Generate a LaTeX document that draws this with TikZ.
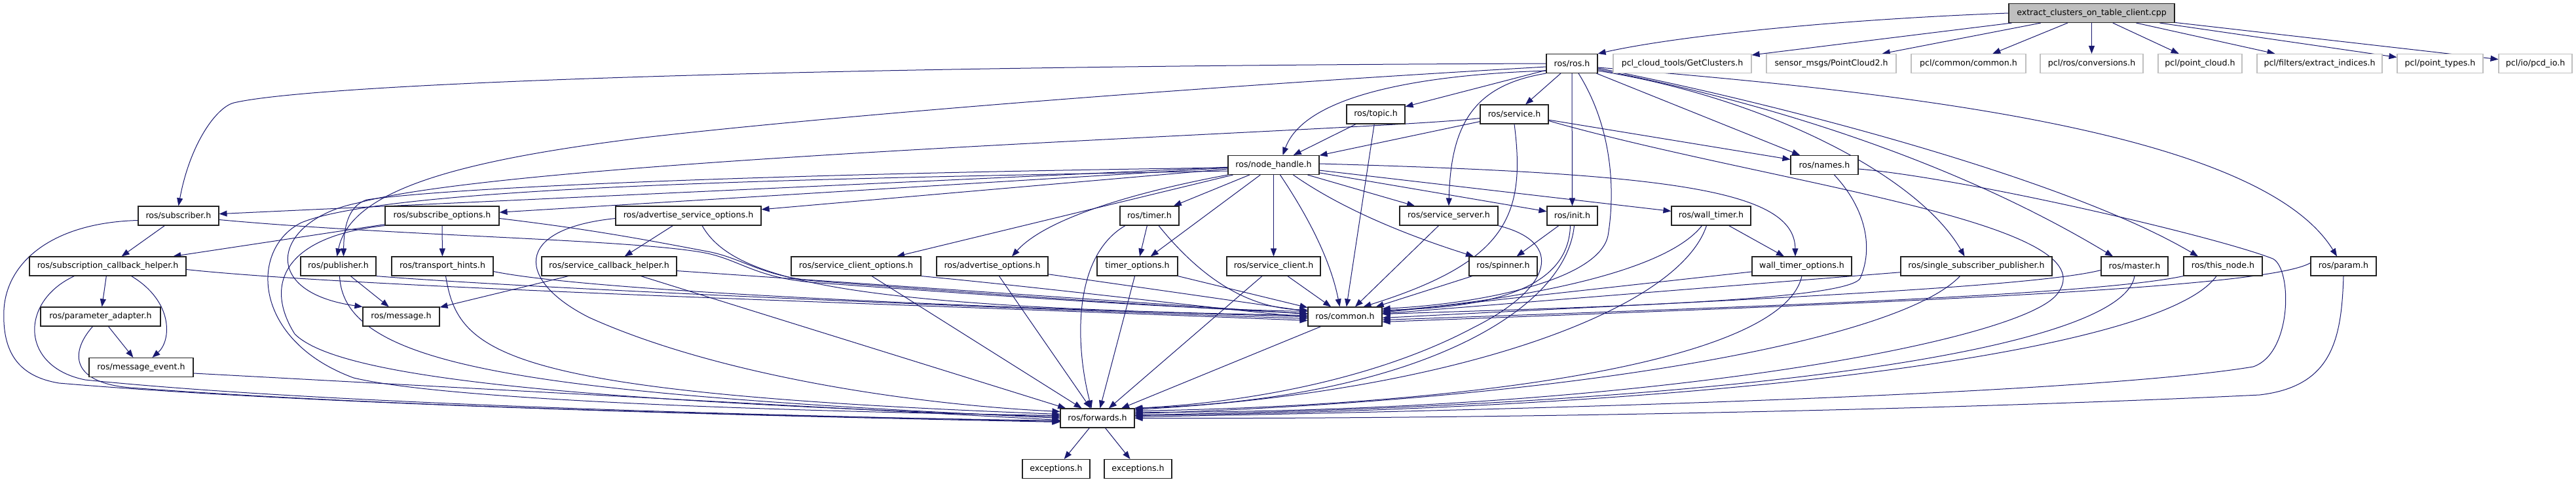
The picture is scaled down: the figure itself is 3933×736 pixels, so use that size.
\documentclass[tikz,border=0pt]{standalone}
\usepackage{fontspec}
\setmainfont{DejaVu Sans}
\usetikzlibrary{arrows.meta}
\definecolor{edgec}{HTML}{191970}
\definecolor{grayb}{HTML}{BFBFBF}
\definecolor{bordc}{HTML}{222222}
\pgfdeclarelayer{bg}
\pgfdeclarelayer{edges}
\pgfsetlayers{bg,edges,main}
\begin{document}
\begin{tikzpicture}[x=1pt,y=-1pt,
  nd/.style={draw=bordc,line width=1.1pt,fill=white,minimum height=29pt,inner sep=0pt,font=\fontsize{12.6}{15}\selectfont},
  ext/.style={nd,draw=grayb},
  e/.style={draw=edgec,line width=1pt,-{Triangle[length=12pt,width=9pt]}}]
\begin{pgfonlayer}{bg}
\fill[white] (0,0) rectangle (3933,736);
\end{pgfonlayer}
\useasboundingbox (0,0) rectangle (3933,736);

% ---------- nodes ----------
\node[nd,fill=grayb,minimum width=253pt] (root) at (3193.5,20) {extract\_clusters\_on\_table\_client.cpp};
\node[nd,minimum width=78pt] (ros) at (2400,97) {ros/ros.h};
\node[ext,minimum width=211pt] (getcl) at (2568.5,97) {pcl\_cloud\_tools/GetClusters.h};
\node[ext,minimum width=198pt] (pc2) at (2796,97) {sensor\_msgs/PointCloud2.h};
\node[ext,minimum width=175pt] (pclcommon) at (3005.5,97) {pcl/common/common.h};
\node[ext,minimum width=157pt] (conv) at (3193.5,97) {pcl/ros/conversions.h};
\node[ext,minimum width=128pt] (pcloud) at (3359,97) {pcl/point\_cloud.h};
\node[ext,minimum width=191pt] (extr) at (3541.5,97) {pcl/filters/extract\_indices.h};
\node[ext,minimum width=131pt] (ptypes) at (3725.5,97) {pcl/point\_types.h};
\node[ext,minimum width=112pt] (pcd) at (3871,97) {pcl/io/pcd\_io.h};

\node[nd,minimum width=89pt] (topic) at (2100.5,174.5) {ros/topic.h};
\node[nd,minimum width=104pt] (service) at (2312,174.5) {ros/service.h};

\node[nd,minimum width=139pt] (nh) at (1944.5,252) {ros/node\_handle.h};
\node[nd,minimum width=103pt] (names) at (2785.5,252) {ros/names.h};

\node[nd,minimum width=123pt] (sub) at (272.5,329.5) {ros/subscriber.h};
\node[nd,minimum width=174pt] (subopt) at (675,329.5) {ros/subscribe\_options.h};
\node[nd,minimum width=222pt] (advsrvopt) at (1051,329.5) {ros/advertise\_service\_options.h};
\node[nd,minimum width=90pt] (timer) at (1755,329.5) {ros/timer.h};
\node[nd,minimum width=150pt] (srvserver) at (2212,329.5) {ros/service\_server.h};
\node[nd,minimum width=77pt] (init) at (2400.5,329.5) {ros/init.h};
\node[nd,minimum width=121pt] (walltimer) at (2612.5,329.5) {ros/wall\_timer.h};

\node[nd,minimum width=239pt] (subcb) at (164.5,406.5) {ros/subscription\_callback\_helper.h};
\node[nd,minimum width=115pt] (pub) at (516.5,406.5) {ros/publisher.h};
\node[nd,minimum width=155pt] (transport) at (675.5,406.5) {ros/transport\_hints.h};
\node[nd,minimum width=206pt] (srvcb) at (930,406.5) {ros/service\_callback\_helper.h};
\node[nd,minimum width=198pt] (srvclopt) at (1307,406.5) {ros/service\_client\_options.h};
\node[nd,minimum width=170pt] (advopt) at (1515,406.5) {ros/advertise\_options.h};
\node[nd,minimum width=123pt] (timeropt) at (1736.5,406.5) {timer\_options.h};
\node[nd,minimum width=143pt] (srvclient) at (1944.5,406.5) {ros/service\_client.h};
\node[nd,minimum width=104pt] (spinner) at (2295,406.5) {ros/spinner.h};
\node[nd,minimum width=152pt] (wtopt) at (2751,406.5) {wall\_timer\_options.h};
\node[nd,minimum width=231pt] (ssp) at (3017.5,406.5) {ros/single\_subscriber\_publisher.h};
\node[nd,minimum width=102pt] (master) at (3259,406.5) {ros/master.h};
\node[nd,minimum width=120pt] (thisnode) at (3394,406.5) {ros/this\_node.h};
\node[nd,minimum width=100pt] (param) at (3578,406.5) {ros/param.h};

\node[nd,minimum width=183pt] (padapt) at (153.5,483.5) {ros/parameter\_adapter.h};
\node[nd,minimum width=117pt] (msg) at (612.5,483.5) {ros/message.h};
\node[nd,minimum width=113pt] (common) at (2053.5,483.5) {ros/common.h};

\node[nd,minimum width=159pt] (msgevent) at (215.5,561) {ros/message\_event.h};

\node[nd,minimum width=113pt] (fwd) at (1675.5,638.5) {ros/forwards.h};

\node[nd,minimum width=103pt] (exc1) at (1612.5,716) {exceptions.h};
\node[nd,minimum width=103pt] (exc2) at (1737.5,716) {exceptions.h};

% ---------- edges ----------
\begin{pgfonlayer}{edges}
% root
\draw[e] (root.west) .. controls (2800,30) and (2560,55) .. (ros.north east);
\foreach \nn in {getcl,pc2,pclcommon,conv,pcloud,extr,ptypes,pcd} \draw[e] (root) -- (\nn);

% ros/ros.h
\draw[e] (ros.west) .. controls (1200,101) and (480,128) .. (357,157) .. controls (330,164) and (290,220) .. (sub.north);
\draw[e] ([yshift=-5pt]ros.west) .. controls (1700,140) and (1200,185) .. (984,210) .. controls (700,245) and (535,290) .. ([xshift=-2pt]pub.north);
\draw[e] ([yshift=-11pt]ros.west) .. controls (2150,115) and (1990,150) .. ([xshift=14pt]nh.north);
\draw[e] (ros) -- (topic);
\draw[e] (ros) -- (service);
\draw[e] (ros.south west) .. controls (2250,130) and (2215,190) .. (srvserver.north);
\draw[e] (ros) -- (init);
\draw[e] ([xshift=10pt]ros.south) .. controls (2465,200) and (2465,300) .. (2455,360) .. controls (2440,430) and (2250,465) .. (common.12);
\draw[e] (ros) -- (names);
\draw[e] ([yshift=-11pt]ros.east) .. controls (2700,150) and (2930,270) .. ([xshift=-18pt]ssp.north);
\draw[e] ([yshift=-9pt]ros.east) .. controls (2720,160) and (3000,255) .. ([xshift=-33pt]master.north);
\draw[e] ([yshift=-7pt]ros.east) .. controls (2700,155) and (3150,270) .. ([xshift=-38pt]thisnode.north);
\draw[e] ([yshift=-6pt]ros.east) .. controls (2900,140) and (3450,200) .. ([xshift=-10pt]param.north);

% topic / service
\draw[e] (topic) -- (nh);
\draw[e] (topic) -- (common);
\draw[e] (service) -- (nh);
\draw[e] ([yshift=-6pt]service.west) .. controls (2100,200) and (800,240) .. (546,310) .. controls (420,335) and (390,445) .. (msg.north west);
\draw[e] (service.south) .. controls (2330,330) and (2300,400) .. ([xshift=28pt]common.north);
\draw[e] (service) -- (names);
\draw[e] ([yshift=-10pt]service.east) .. controls (2700,280) and (3230,340) .. (3140,450) .. controls (3080,523) and (2500,630) .. (fwd.9);

% node_handle
\draw[e] (nh) -- (sub);
\draw[e] (nh) -- (subopt);
\draw[e] (nh) -- (advsrvopt);
\draw[e] ([yshift=-4pt]nh.west) .. controls (1200,265) and (700,285) .. (560,305) .. controls (530,315) and (525,350) .. ([xshift=8pt]pub.north);
\draw[e] ([yshift=-9pt]nh.west) .. controls (1300,272) and (600,282) .. (460,340) .. controls (380,380) and (385,520) .. (540,577) .. controls (700,615) and (1300,630) .. (fwd.176);
\draw[e] (nh) -- (srvclopt);
\draw[e] (nh.south west) .. controls (1750,290) and (1600,330) .. ([xshift=30pt]advopt.north);
\draw[e] (nh) -- (timer);
\draw[e] (nh) -- (timeropt);
\draw[e] (nh) -- (srvclient);
\draw[e] ([xshift=10pt]nh.south) .. controls (1990,320) and (2030,390) .. ([xshift=-8pt]common.north);
\draw[e] (nh) -- (srvserver);
\draw[e] ([xshift=30pt]nh.south) .. controls (2050,320) and (2150,360) .. ([xshift=-45pt]spinner.north);
\draw[e] (nh) -- (init);
\draw[e] (nh) -- (walltimer);
\draw[e] ([yshift=2pt]nh.east) .. controls (2550,265) and (2740,290) .. ([xshift=-10pt]wtopt.north);

% names
\draw[e] ([xshift=15pt]names.south) .. controls (2850,320) and (2860,380) .. (2840,425) .. controls (2820,460) and (2400,470) .. (common.4);
\draw[e] ([yshift=-6pt]names.east) .. controls (3000,272) and (3380,360) .. (3470,395) .. controls (3500,410) and (3500,540) .. (3440,560) .. controls (3200,600) and (2400,625) .. (fwd.2);

% wall_timer, wall_timer_options
\draw[e] (walltimer) -- (wtopt);
\draw[e] ([xshift=-14pt]walltimer.south) .. controls (2540,420) and (2300,460) .. (common.8);
\draw[e] ([xshift=-7pt]walltimer.south) .. controls (2560,480) and (2200,600) .. (fwd.13);
\draw[e] (wtopt) -- (common);
\draw[e] (wtopt.south) .. controls (2720,560) and (2200,620) .. (fwd.11);

% init
\draw[e] (init) -- (spinner);
\draw[e] ([xshift=-3pt]init.south) .. controls (2395,440) and (2280,470) .. (common.10);
\draw[e] ([xshift=3pt]init.south) .. controls (2390,480) and (2150,610) .. (fwd.north east);

% service_server, spinner, common
\draw[e] (srvserver) -- (common);
\draw[e] (srvserver.south east) .. controls (2390,370) and (2370,440) .. (2250,500) .. controls (2100,580) and (1900,615) .. (fwd.15);
\draw[e] (spinner) -- (common);
\draw[e] (common) -- (fwd);

% single_subscriber_publisher, master, this_node, param
\draw[e] (ssp) -- (common);
\draw[e] ([xshift=-25pt]ssp.south) .. controls (2900,520) and (2400,610) .. (fwd.7);
\draw[e] ([yshift=-6pt]master.west) .. controls (3100,440) and (2600,460) .. (common.358);
\draw[e] (master.south) .. controls (3240,540) and (2600,620) .. (fwd.5);
\draw[e] (thisnode.south west) .. controls (3200,450) and (2700,468) .. (common.355);
\draw[e] ([xshift=-10pt]thisnode.south) .. controls (3300,540) and (2600,625) .. (fwd.4);
\draw[e] ([yshift=5pt]param.west) .. controls (3460,440) and (2900,462) .. (common.352);
\draw[e] (param.south) .. controls (3575,520) and (3560,590) .. (3450,603) .. controls (3000,625) and (2300,640) .. (fwd.east);

% subscriber
\draw[e] (sub) -- (subcb);
\draw[e] ([yshift=-6pt]sub.east) .. controls (600,360) and (950,365) .. (1070,385) .. controls (1130,395) and (1150,425) .. (1250,432) .. controls (1500,450) and (1800,472) .. (common.172);
\draw[e] ([yshift=-7pt]sub.west) .. controls (80,340) and (10,400) .. (6,473) .. controls (3,540) and (30,575) .. (90,585) .. controls (500,620) and (1200,636) .. (fwd.186);

% subscribe_options
\draw[e] (subopt) -- (subcb);
\draw[e] (subopt) -- (transport);
\draw[e] ([yshift=-4pt]subopt.east) .. controls (900,350) and (980,365) .. (1075,383) .. controls (1135,393) and (1160,423) .. (1255,430) .. controls (1500,448) and (1800,470) .. (common.175);
\draw[e] (subopt.south west) .. controls (440,360) and (400,430) .. (450,510) .. controls (510,570) and (800,610) .. (fwd.178);

% advertise_service_options
\draw[e] (advsrvopt) -- (srvcb);
\draw[e] ([xshift=21pt]advsrvopt.south) .. controls (1120,430) and (1300,470) .. (common.178);
\draw[e] ([yshift=-4pt]advsrvopt.west) .. controls (780,350) and (790,430) .. (900,485) .. controls (1100,575) and (1400,618) .. (fwd.170);

% subscription_callback_helper, parameter_adapter, message_event
\draw[e] (subcb) -- (padapt);
\draw[e] ([xshift=36pt]subcb.south) .. controls (265,460) and (262,520) .. ([xshift=17pt]msgevent.north);
\draw[e] ([yshift=-5pt]subcb.east) .. controls (550,440) and (1400,465) .. (common.186);
\draw[e] ([xshift=-51pt]subcb.south) .. controls (30,460) and (30,560) .. (130,580) .. controls (500,618) and (1200,635) .. (fwd.185);
\draw[e] (padapt) -- (msgevent);
\draw[e] ([xshift=-12pt]padapt.south) .. controls (105,540) and (110,585) .. (200,592) .. controls (600,622) and (1200,636) .. (fwd.184);
\draw[e] ([yshift=-9pt]msgevent.east) -- (fwd.183);

% publisher, transport_hints
\draw[e] (pub) -- (msg);
\draw[e] (pub.south east) .. controls (800,440) and (1500,470) .. (common.183);
\draw[e] ([xshift=2pt]pub.south) .. controls (525,560) and (800,600) .. (fwd.180);
\draw[e] ([yshift=-8pt]transport.east) .. controls (900,445) and (1500,470) .. (common.west);
\draw[e] ([xshift=5pt]transport.south) .. controls (700,540) and (760,600) .. (fwd.174);

% row 5 middle
\draw[e] (srvcb) -- (msg);
\draw[e] (srvcb) -- (common);
\draw[e] (srvcb) -- (fwd);
\draw[e] (srvclopt.south east) .. controls (1600,440) and (1800,465) .. (common.181);
\draw[e] (srvclopt) -- (fwd);
\draw[e] (advopt) -- (common);
\draw[e] (advopt) -- (fwd);
\draw[e] (timer) -- (timeropt);
\draw[e] ([xshift=14pt]timer.south) .. controls (1830,420) and (1900,470) .. (common.170);
\draw[e] ([xshift=-37pt]timer.south) .. controls (1640,390) and (1640,520) .. ([xshift=-9pt]fwd.north);
\draw[e] (timeropt) -- (common);
\draw[e] (timeropt) -- (fwd);
\draw[e] (srvclient) -- (common);
\draw[e] (srvclient) -- (fwd);

% forwards
\draw[e] (fwd) -- (exc1);
\draw[e] (fwd) -- (exc2);
\end{pgfonlayer}
\end{tikzpicture}
\end{document}
